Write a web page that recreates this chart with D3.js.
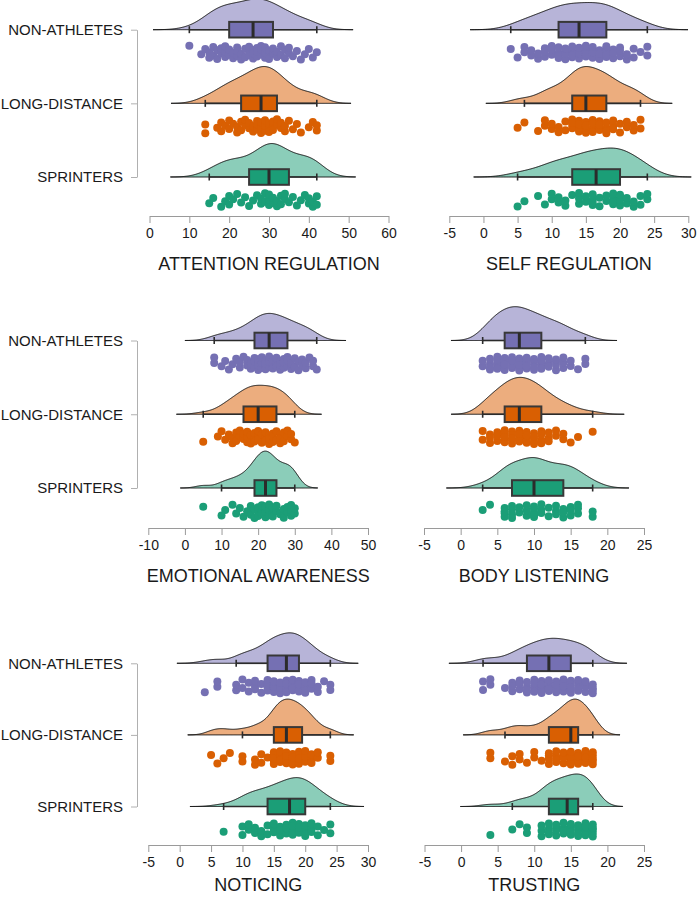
<!DOCTYPE html>
<html><head><meta charset="utf-8">
<script src="https://cdn.jsdelivr.net/npm/d3@7"></script>
<style>
html,body{margin:0;padding:0;background:#fff;}
svg{display:block;font-family:"Liberation Sans",Arial,Helvetica,sans-serif;}
</style></head>
<body>
<svg id="chart" width="697" height="900"></svg>
<script>
// ---------------- DATA ----------------
const groups = ["NON-ATHLETES", "LONG-DISTANCE", "SPRINTERS"];
const panelTitles = ["ATTENTION REGULATION", "SELF REGULATION", "EMOTIONAL AWARENESS",
                     "BODY LISTENING", "NOTICING", "TRUSTING"];
const ticksAttention = [0, 10, 20, 30, 40, 50, 60];
const ticksSelf = [-5, 0, 5, 10, 15, 20, 25, 30];
const ticksEmotional = [-10, 0, 10, 20, 30, 40, 50];
const ticksBody = [-5, 0, 5, 10, 15, 20, 25];
const ticksNoticing = [-5, 0, 5, 10, 15, 20, 25, 30];
const ticksTrusting = [-5, 0, 5, 10, 15, 20, 25];

// individual scores (points)
const attentionNA = [10,13,14,15,15,16,16,17,17,18,18,19,19,19,20,20,21,21,22,22,22,23,23,24,24,25,25,25,26,26,26,27,27,27,28,28,28,29,29,29,30,30,30,31,31,32,32,33,33,34,34,35,35,36,37,38,39,40,41,42];
const attentionLD = [14,14,17,18,18,19,20,20,21,22,22,23,23,24,24,25,25,26,26,27,27,27,28,28,28,29,29,29,30,30,30,31,31,31,32,32,33,33,34,34,35,36,37,38,40,41,42,42];
const attentionSP = [15,16,18,19,20,20,21,22,23,24,25,26,27,28,28,29,29,30,30,30,30,31,31,32,32,33,33,34,34,35,36,37,38,39,40,40,41,41,42,42];

const selfNA = [4,5,6,6,7,7,8,8,9,9,9,10,10,10,11,11,11,11,12,12,12,12,13,13,13,13,14,14,14,14,15,15,15,15,16,16,16,16,17,17,17,17,18,18,18,18,18,19,19,19,20,20,20,21,21,22,22,23,24,24];
const selfLD = [5,6,8,9,9,10,10,11,11,12,12,13,13,13,13,14,14,14,14,14,15,15,15,15,15,16,16,16,16,17,17,17,17,18,18,18,18,19,19,19,20,20,21,21,22,22,23,23];
const selfSP = [5,6,8,9,10,10,11,11,12,12,13,14,14,14,15,15,16,16,16,16,17,17,18,18,19,19,19,19,20,20,20,20,21,21,22,22,23,23,24,24];

const emotionalNA = [8,8,10,11,12,13,14,15,15,16,17,17,18,18,19,19,19,20,20,20,21,21,21,22,22,22,22,23,23,23,23,24,24,24,25,25,25,26,26,26,27,27,27,28,28,28,29,29,30,30,31,31,32,32,33,33,34,35,35,36];
const emotionalLD = [5,9,10,11,12,13,13,14,14,15,15,16,16,17,17,17,18,18,18,19,19,19,20,20,20,21,21,22,22,22,23,23,23,24,24,24,25,25,26,26,26,27,27,28,28,29,29,30];
const emotionalSP = [5,10,11,13,14,15,16,17,18,18,19,19,20,20,20,21,21,21,22,22,22,22,23,23,23,24,24,24,25,25,26,27,27,28,28,29,29,29,30,30];

const bodyNA = [3,3,4,4,4,4,5,5,5,5,5,6,6,6,6,6,6,7,7,7,7,7,7,8,8,8,8,8,8,8,9,9,9,9,9,10,10,10,10,10,11,11,11,11,11,12,12,12,13,13,13,13,14,14,14,15,15,16,17,17];
const bodyLD = [3,3,4,4,4,5,5,5,6,6,6,6,6,7,7,7,7,7,8,8,8,8,8,8,9,9,9,9,9,10,10,10,10,10,11,11,11,11,12,12,12,13,13,14,14,15,16,18];
const bodySP = [3,4,6,6,6,6,7,7,7,7,8,8,9,9,9,10,10,10,10,10,10,11,11,11,12,12,13,13,13,14,14,14,15,15,15,16,16,16,18,18];

const noticingNA = [4,6,6,9,9,10,10,11,11,12,12,12,13,13,14,14,14,14,14,15,15,15,15,15,16,16,16,16,16,17,17,17,17,17,17,18,18,18,18,18,18,19,19,19,19,19,19,20,20,20,20,21,21,21,21,22,22,23,24,24];
const noticingLD = [5,6,7,8,10,10,12,12,13,13,14,15,15,15,15,15,16,16,16,16,16,17,17,17,17,17,17,18,18,18,18,18,19,19,19,19,19,20,20,20,20,21,21,21,22,22,24,24];
const noticingSP = [7,10,10,11,11,12,12,13,13,14,14,15,15,15,16,16,16,17,17,17,18,18,18,18,19,19,19,19,20,20,20,20,21,21,21,22,22,23,24,24];

const trustingNA = [3,3,4,4,6,7,7,7,8,8,8,9,9,9,9,10,10,10,10,10,11,11,11,11,11,12,12,12,12,12,12,13,13,13,13,13,13,14,14,14,14,14,15,15,15,15,15,16,16,16,16,16,17,17,17,17,18,18,18,18];
const trustingLD = [4,4,6,7,7,8,8,9,10,10,11,12,12,12,12,13,13,13,13,14,14,14,14,15,15,15,15,15,15,15,15,16,16,16,16,16,16,16,17,17,17,17,17,18,18,18,18,18];
const trustingSP = [4,7,8,9,9,11,11,11,12,12,12,12,13,13,13,13,14,14,14,14,15,15,15,15,15,16,16,16,16,16,17,17,17,17,17,18,18,18,18,18];

// box statistics: [lower whisker, Q1, median, Q3, upper whisker]
const attentionBox = [[10,20,26,31,42],[14,23,28,32,42],[15,25,30,35,42]];
const selfBox      = [[4,11,14,18,24],[6,13,15,18,23],[5,13,16.5,20,24]];
const emotionalBox = [[8,19,23,28,36],[5,16,20,25,30],[10,19,22,25,30]];
const bodyBox      = [[3,6,8,11,17],[3,6,8,11,18],[3,7,10,14,18]];
const noticingBox  = [[9,14,17,19,24],[10,15,17,19.5,24],[7,14,17.5,20,24]];
const trustingBox  = [[3,9,12,15,18],[6,12,15,16,18],[7,12,14.5,16,18]];

// ---------------- STYLE / LAYOUT ----------------
const darkColors  = ["#7570B3", "#D95F02", "#1B9E77"];
const lightColors = ["#B7B4D8", "#ECAD7E", "#8BCDB9"];

const panels = [
  {title: panelTitles[0], ticks: ticksAttention, data: [attentionNA, attentionLD, attentionSP], box: attentionBox,
   xr: [149.5, 388.5], yr: [29.7, 177], axisY: 216, titleY: 270, yAxis: true},
  {title: panelTitles[1], ticks: ticksSelf, data: [selfNA, selfLD, selfSP], box: selfBox,
   xr: [449.3, 688.3], yr: [29.7, 177], axisY: 216, titleY: 270, yAxis: false},
  {title: panelTitles[2], ticks: ticksEmotional, data: [emotionalNA, emotionalLD, emotionalSP], box: emotionalBox,
   xr: [148.3, 368], yr: [340.5, 488], axisY: 528, titleY: 582, yAxis: true},
  {title: panelTitles[3], ticks: ticksBody, data: [bodyNA, bodyLD, bodySP], box: bodyBox,
   xr: [424, 644], yr: [340.5, 488], axisY: 528, titleY: 582, yAxis: false},
  {title: panelTitles[4], ticks: ticksNoticing, data: [noticingNA, noticingLD, noticingSP], box: noticingBox,
   xr: [148.3, 368], yr: [663.3, 806.5], axisY: 845, titleY: 891, yAxis: true},
  {title: panelTitles[5], ticks: ticksTrusting, data: [trustingNA, trustingLD, trustingSP], box: trustingBox,
   xr: [424.5, 644], yr: [663.3, 806.5], axisY: 845, titleY: 891, yAxis: false}
];

// ---------------- HELPERS ----------------
function bwNrd0(x) {
  const n = x.length;
  const s = d3.deviation(x);
  const iqr = d3.quantile(x, 0.75) - d3.quantile(x, 0.25);
  let lo = Math.min(s, iqr / 1.34);
  if (!(lo > 0)) lo = s || 1;
  return 0.9 * lo * Math.pow(n, -0.2);
}
function kde(x) {
  const bw = bwNrd0(x);
  const lo = d3.min(x) - 3 * bw, hi = d3.max(x) + 3 * bw;
  const N = 300, out = [];
  const c = 1 / (x.length * bw * Math.sqrt(2 * Math.PI));
  for (let i = 0; i < N; i++) {
    const t = lo + (hi - lo) * i / (N - 1);
    let s = 0;
    for (const v of x) { const z = (t - v) / bw; s += Math.exp(-0.5 * z * z); }
    out.push([t, s * c]);
  }
  return out;
}
// deterministic jitter in [-1,1]
function jit(i, g, p) {
  const v = (i * 0.6180339887 + g * 0.37 + p * 0.23) % 1;
  return v * 2 - 1;
}

// ---------------- DRAW ----------------
const svg = d3.select("#chart");
const axisGray = "#9a9a9a";
const textCol = "#1a1a1a";

panels.forEach((p, pi) => {
  const g = svg.append("g");
  const x = d3.scaleLinear().domain([p.ticks[0], p.ticks[p.ticks.length - 1]]).range(p.xr);
  const y = d3.scalePoint().domain(groups).range(p.yr);
  const spacing = y.step();

  const dens = p.data.map(kde);
  const maxD = d3.max(dens, d => d3.max(d, e => e[1]));
  const k = 0.5 * spacing / maxD;

  groups.forEach((grp, gi) => {
    const base = y(grp);
    const area = d3.area().x(d => x(d[0])).y0(base).y1(d => base - d[1] * k);
    g.append("path").attr("d", area(dens[gi]))
      .attr("fill", lightColors[gi]).attr("stroke", "#111").attr("stroke-width", 1);

    const b = p.box[gi];
    // whiskers
    g.append("line").attr("x1", x(b[0])).attr("x2", x(b[1])).attr("y1", base).attr("y2", base)
      .attr("stroke", "#2b2b2b").attr("stroke-width", 1.6);
    g.append("line").attr("x1", x(b[3])).attr("x2", x(b[4])).attr("y1", base).attr("y2", base)
      .attr("stroke", "#2b2b2b").attr("stroke-width", 1.6);
    [b[0], b[4]].forEach(v => {
      g.append("line").attr("x1", x(v)).attr("x2", x(v)).attr("y1", base - 3.5).attr("y2", base + 3.5)
        .attr("stroke", "#2b2b2b").attr("stroke-width", 1.6);
    });
    // box
    g.append("rect").attr("x", x(b[1])).attr("y", base - 7.8).attr("width", x(b[3]) - x(b[1])).attr("height", 15.6)
      .attr("fill", darkColors[gi]).attr("stroke", "#383838").attr("stroke-width", 2);
    g.append("line").attr("x1", x(b[2])).attr("x2", x(b[2])).attr("y1", base - 7.8).attr("y2", base + 7.8)
      .attr("stroke", "#2b2b2b").attr("stroke-width", 3);

    // points
    g.append("g").selectAll("circle").data(p.data[gi]).join("circle")
      .attr("cx", d => x(d))
      .attr("cy", (d, i) => base + 23 + 7 * jit(i, gi, pi))
      .attr("r", 4)
      .attr("fill", darkColors[gi]);
  });

  // x axis
  const ax = g.append("g").attr("transform", `translate(0,${p.axisY})`)
    .call(d3.axisBottom(x).tickValues(p.ticks).tickSize(7).tickSizeOuter(0).tickPadding(5).tickFormat(d3.format("d")));
  ax.select(".domain").attr("stroke", axisGray).attr("stroke-width", 1);
  ax.selectAll(".tick line").attr("stroke", axisGray).attr("stroke-width", 1);
  ax.selectAll(".tick text").attr("fill", textCol).attr("font-size", 14)
    .style("font-family", "'Liberation Sans', Arial, sans-serif").text(d => d < 0 ? "-" + Math.abs(d) : d);

  // title
  g.append("text").attr("x", (p.xr[0] + p.xr[1]) / 2).attr("y", p.titleY)
    .attr("text-anchor", "middle").attr("font-size", 18).attr("fill", textCol).text(p.title);

  // y axis
  if (p.yAxis) {
    const ay = g.append("g").attr("transform", "translate(137,0)")
      .call(d3.axisLeft(y).tickSize(6).tickSizeOuter(0).tickPadding(8));
    ay.select(".domain").attr("stroke", "#b0b0b0").attr("stroke-width", 1);
    ay.selectAll(".tick line").attr("stroke", "#b0b0b0").attr("stroke-width", 1);
    ay.selectAll(".tick text").attr("fill", textCol).attr("font-size", 15)
      .style("font-family", "'Liberation Sans', Arial, sans-serif");
  }
});
</script>
</body></html>
